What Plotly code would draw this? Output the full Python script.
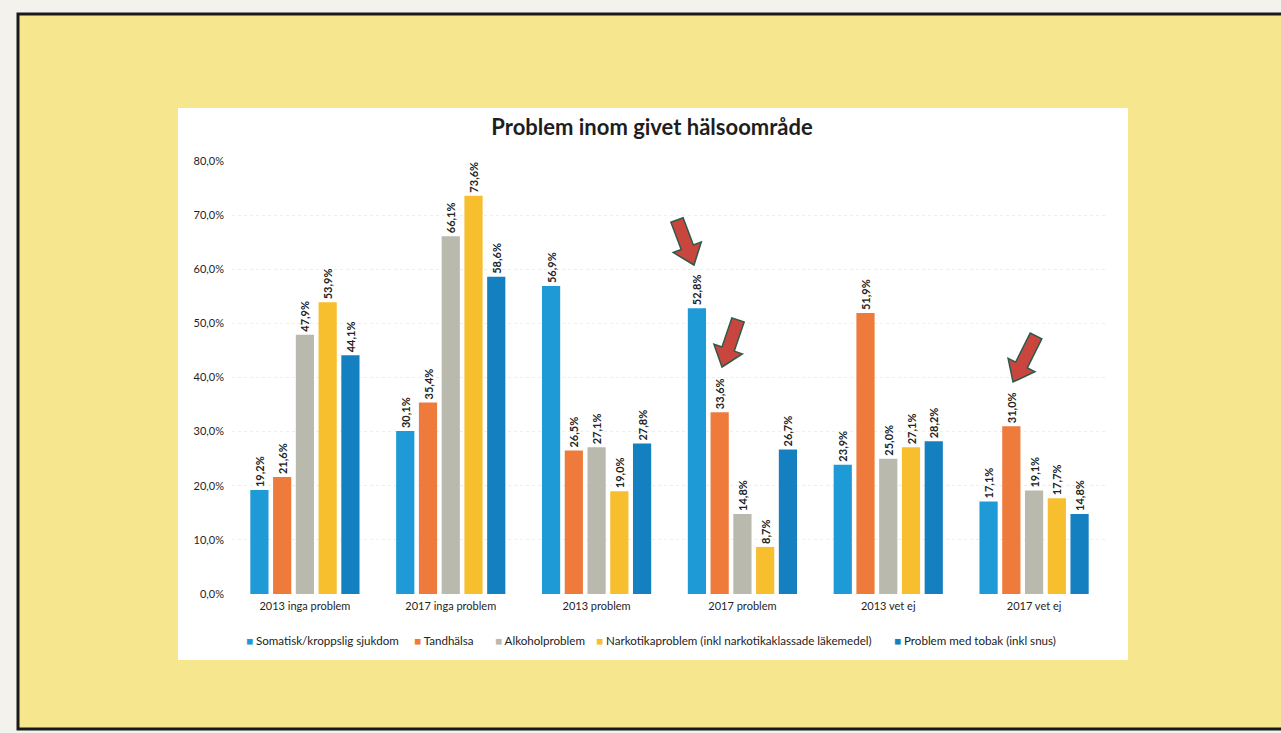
import math
import plotly.graph_objects as go

categories = ["2013 inga problem", "2017 inga problem", "2013 problem",
              "2017 problem", "2013 vet ej", "2017 vet ej"]
series_names = ["Somatisk/kroppslig sjukdom", "Tandhälsa", "Alkoholproblem",
                "Narkotikaproblem (inkl narkotikaklassade läkemedel)",
                "Problem med tobak (inkl snus)"]
somatisk = [19.2, 30.1, 56.9, 52.8, 23.9, 17.1]
tandhalsa = [21.6, 35.4, 26.5, 33.6, 51.9, 31.0]
alkohol = [47.9, 66.1, 27.1, 14.8, 25.0, 19.1]
narkotika = [53.9, 73.6, 19.0, 8.7, 27.1, 17.7]
tobak = [44.1, 58.6, 27.8, 26.7, 28.2, 14.8]
y_ticks = [0, 10, 20, 30, 40, 50, 60, 70, 80]
y_tick_labels = ["0,0%", "10,0%", "20,0%", "30,0%", "40,0%", "50,0%",
                 "60,0%", "70,0%", "80,0%"]
colors = ["#1E9AD6", "#EE7A3C", "#B9B9AE", "#F7BE2E", "#1580C0"]

# body margin is removed by post_script, so the figure fills the window
OX, OY = 0, 0
WIN_W, WIN_H = 1281, 733
W, H = WIN_W, WIN_H
PL, PR, PT, PB = 232, 1107, 161, 594   # plot area in window pixels
L, R = PL - OX, (OX + W) - PR
T, B = PT - OY, (OY + H) - PB
PW, PH = PR - PL, PB - PT


def px(x):
    return (x - PL) / PW


def py(y):
    return (PB - y) / PH


def rect(x0, y0, x1, y1, **kw):
    return dict(type="rect", xref="paper", yref="paper",
                x0=px(x0), x1=px(x1), y0=py(y1), y1=py(y0), **kw)


def arrow(tail, tip, sw=13, hw=30, hl=19):
    dx, dy = tip[0] - tail[0], tip[1] - tail[1]
    d = math.hypot(dx, dy)
    ux, uy = dx / d, dy / d
    nx, ny = -uy, ux
    bx, by = tip[0] - ux * hl, tip[1] - uy * hl
    pts = [
        (tail[0] + nx * sw / 2, tail[1] + ny * sw / 2),
        (bx + nx * sw / 2, by + ny * sw / 2),
        (bx + nx * hw / 2, by + ny * hw / 2),
        tip,
        (bx - nx * hw / 2, by - ny * hw / 2),
        (bx - nx * sw / 2, by - ny * sw / 2),
        (tail[0] - nx * sw / 2, tail[1] - ny * sw / 2),
    ]
    path = "M " + " L ".join(f"{px(x):.5f},{py(y):.5f}" for x, y in pts) + " Z"
    return dict(type="path", xref="paper", yref="paper", path=path,
                fillcolor="#C9463F", line=dict(color="#2E5A4A", width=1.5),
                layer="above")


fig = go.Figure()
for name, vals, c in zip(series_names,
                         [somatisk, tandhalsa, alkohol, narkotika, tobak], colors):
    fig.add_trace(go.Bar(
        x=categories, y=vals, name=name, marker=dict(color=c, line=dict(width=0)),
        texttemplate="<b>%{y:.1f}%</b>", textposition="outside", textangle=-90,
        constraintext="none",
        textfont=dict(family="Lato", size=11, color="#222"),
        cliponaxis=False, showlegend=False,
    ))

shapes = [
    rect(-10, -10, WIN_W + 60, WIN_H + 60, fillcolor="#F3F2EC", line=dict(width=0),
         layer="below"),
    rect(18, 14, WIN_W + 60, 729, fillcolor="#F6E68E",
         line=dict(color="#1A1A1A", width=3), layer="below"),
    rect(178, 108, 1128, 660, fillcolor="#FFFFFF", line=dict(width=0), layer="below"),
    arrow((677, 220), (694, 265)),
    arrow((738, 320), (722, 367)),
    arrow((1036, 336), (1013, 382)),
]

legend_x = [244, 412, 493, 594, 892]
annotations = []
for name, c, lx in zip(series_names, colors, legend_x):
    annotations.append(dict(
        xref="paper", yref="paper", x=px(lx), y=py(640), xanchor="left",
        yanchor="middle", showarrow=False,
        text=f"<span style='color:{c}'>■</span> {name}",
        font=dict(family="Lato", size=11.6, color="#222"),
    ))

fig.update_layout(
    width=W, height=H,
    margin=dict(l=L, r=R, t=T, b=B, autoexpand=False),
    separators=",.",
    paper_bgcolor="#F3F2EC", plot_bgcolor="rgba(0,0,0,0)",
    barmode="group", bargap=0.22, bargroupgap=0.2,
    font=dict(family="Lato", color="#222"),
    title=dict(text="<b>Problem inom givet hälsoområde</b>",
               x=px(652), xref="paper", xanchor="center",
               y=1 - (127 - OY) / H, yanchor="middle",
               font=dict(family="Lato", size=22, color="#1E1E1E")),
    xaxis=dict(showline=False, ticks="", tickfont=dict(size=11, color="#1E1E1E"),
               ticklabelstandoff=4),
    yaxis=dict(range=[0, 80], tickvals=y_ticks, ticktext=y_tick_labels,
               showgrid=True, gridcolor="#EDEDED", griddash="dot",
               zeroline=False, showline=False,
               tickfont=dict(size=11, color="#1E1E1E"),
               ticklabelstandoff=7),
    showlegend=False,
    annotations=annotations,
    shapes=shapes,
)

fig.write_html(
    "out.html",
    config={"displayModeBar": False},
    post_script="document.body.style.margin='0';"
                "document.body.style.overflow='hidden';",
)
